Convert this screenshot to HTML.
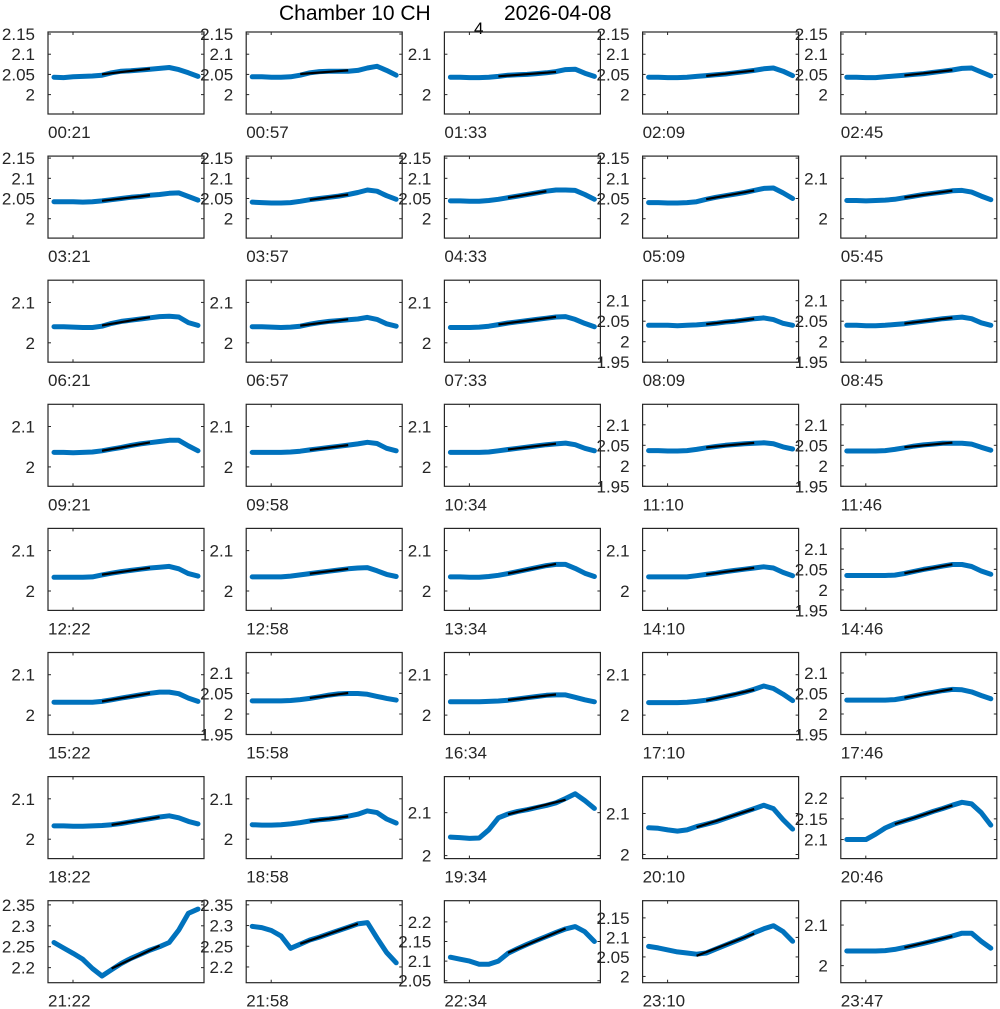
<!DOCTYPE html>
<html><head><meta charset="utf-8"><style>
body{margin:0;background:#fff}
svg{display:block;font-family:"Liberation Sans",sans-serif}
</style></head><body>
<svg id="fig" width="1000" height="1009" viewBox="0 0 1000 1009">
<rect width="1000" height="1009" fill="#fff"/>
<text x="279" y="20" font-size="21">Chamber 10 CH<tspan x="474" y="34" font-size="17">4</tspan><tspan x="504" y="20">2026-04-08</tspan></text>
</svg>
<script>
const timeLabels=["00:21","00:57","01:33","02:09","02:45","03:21","03:57","04:33","05:09","05:45","06:21","06:57","07:33","08:09","08:45","09:21","09:58","10:34","11:10","11:46","12:22","12:58","13:34","14:10","14:46","15:22","15:58","16:34","17:10","17:46","18:22","18:58","19:34","20:10","20:46","21:22","21:58","22:34","23:10","23:47"];
const T1=[2,2.05,2.1,2.15],T2=[2,2.1],T3=[1.95,2,2.05,2.1];
const yTicks=[T1,T1,T2,T1,T1, T1,T1,T1,T1,T2, T2,T2,T2,T3,T3, T2,T2,T2,T3,T3, T2,T2,T2,T2,T3, T2,T3,T2,T2,T3, T2,T2,T2,T2,[2.05,2.1,2.15,2.2], [2.2,2.25,2.3,2.35],[2.2,2.25,2.3,2.35],[2.05,2.1,2.15,2.2],[2,2.05,2.1,2.15],T2];
const yMin=[];const yMax=[];
for(let i=0;i<40;i++){yMin.push(1.952);yMax.push(2.155);}
[13,14,18,19,24,26,29].forEach(i=>{yMin[i]=1.95;yMax[i]=2.15;});
yMin[32]=1.993;yMax[32]=2.184;yMin[33]=1.99;yMax[33]=2.19;yMin[34]=2.054;yMax[34]=2.252;
yMin[35]=2.164;yMax[35]=2.36;yMin[36]=2.162;yMax[36]=2.36;yMin[37]=2.045;yMax[37]=2.254;
yMin[38]=1.984;yMax[38]=2.194;yMin[39]=1.958;yMax[39]=2.16;
const series=[
[2.043,2.042,2.044,2.045,2.046,2.048,2.054,2.058,2.059,2.061,2.063,2.065,2.067,2.062,2.054,2.045],
[2.044,2.044,2.043,2.043,2.044,2.048,2.054,2.057,2.058,2.058,2.058,2.06,2.066,2.07,2.06,2.048],
[2.043,2.043,2.042,2.042,2.043,2.045,2.048,2.049,2.05,2.052,2.054,2.057,2.062,2.063,2.053,2.045],
[2.043,2.043,2.042,2.042,2.043,2.045,2.047,2.049,2.051,2.054,2.057,2.060,2.064,2.066,2.058,2.047],
[2.043,2.043,2.042,2.042,2.044,2.046,2.048,2.050,2.052,2.055,2.058,2.061,2.065,2.066,2.056,2.046],
[2.042,2.042,2.042,2.041,2.042,2.044,2.047,2.050,2.053,2.055,2.058,2.060,2.063,2.064,2.055,2.046],
[2.041,2.040,2.039,2.039,2.040,2.043,2.047,2.050,2.053,2.056,2.060,2.065,2.071,2.068,2.057,2.048],
[2.044,2.044,2.043,2.043,2.045,2.048,2.052,2.056,2.060,2.064,2.068,2.071,2.071,2.070,2.060,2.048],
[2.040,2.040,2.039,2.039,2.040,2.042,2.048,2.053,2.057,2.061,2.065,2.070,2.075,2.076,2.064,2.050],
[2.045,2.045,2.044,2.045,2.046,2.048,2.052,2.056,2.060,2.063,2.066,2.069,2.070,2.066,2.056,2.047],
[2.040,2.040,2.039,2.038,2.038,2.041,2.048,2.053,2.056,2.059,2.062,2.065,2.066,2.064,2.050,2.043],
[2.040,2.040,2.039,2.038,2.039,2.041,2.046,2.050,2.053,2.055,2.057,2.059,2.063,2.058,2.047,2.041],
[2.038,2.038,2.038,2.039,2.041,2.045,2.049,2.052,2.055,2.058,2.061,2.064,2.065,2.058,2.048,2.040],
[2.040,2.040,2.040,2.039,2.040,2.041,2.043,2.045,2.048,2.050,2.053,2.056,2.058,2.054,2.045,2.040],
[2.040,2.040,2.039,2.039,2.040,2.042,2.044,2.047,2.050,2.053,2.056,2.058,2.060,2.056,2.046,2.040],
[2.036,2.036,2.035,2.036,2.037,2.040,2.044,2.048,2.053,2.057,2.060,2.063,2.066,2.066,2.052,2.040],
[2.036,2.036,2.036,2.036,2.037,2.039,2.042,2.045,2.048,2.051,2.054,2.057,2.061,2.058,2.046,2.040],
[2.036,2.036,2.036,2.036,2.037,2.040,2.043,2.046,2.049,2.052,2.055,2.057,2.059,2.055,2.046,2.040],
[2.037,2.037,2.036,2.036,2.037,2.040,2.044,2.047,2.050,2.052,2.054,2.055,2.056,2.054,2.046,2.041],
[2.036,2.036,2.036,2.036,2.037,2.040,2.044,2.048,2.051,2.053,2.055,2.055,2.055,2.053,2.045,2.038],
[2.034,2.034,2.034,2.034,2.035,2.040,2.044,2.048,2.051,2.054,2.057,2.059,2.061,2.055,2.043,2.037],
[2.035,2.035,2.035,2.035,2.037,2.040,2.043,2.046,2.049,2.052,2.055,2.057,2.058,2.050,2.041,2.036],
[2.035,2.035,2.034,2.034,2.036,2.039,2.043,2.048,2.053,2.058,2.063,2.066,2.066,2.056,2.044,2.036],
[2.035,2.035,2.035,2.035,2.035,2.038,2.041,2.044,2.048,2.051,2.054,2.057,2.060,2.057,2.046,2.038],
[2.035,2.035,2.035,2.035,2.035,2.036,2.040,2.045,2.050,2.054,2.058,2.062,2.062,2.057,2.046,2.038],
[2.032,2.032,2.032,2.032,2.032,2.034,2.038,2.042,2.046,2.050,2.054,2.057,2.057,2.053,2.042,2.034],
[2.032,2.032,2.032,2.032,2.033,2.035,2.038,2.042,2.046,2.049,2.050,2.050,2.048,2.043,2.038,2.034],
[2.033,2.033,2.033,2.033,2.034,2.035,2.037,2.040,2.043,2.046,2.049,2.050,2.050,2.044,2.038,2.033],
[2.031,2.031,2.031,2.031,2.032,2.034,2.037,2.041,2.046,2.051,2.057,2.064,2.072,2.066,2.052,2.036],
[2.034,2.034,2.034,2.034,2.034,2.035,2.039,2.044,2.049,2.053,2.057,2.060,2.059,2.054,2.045,2.037],
[2.033,2.033,2.032,2.032,2.033,2.034,2.036,2.039,2.043,2.047,2.051,2.055,2.058,2.053,2.044,2.038],
[2.036,2.035,2.035,2.036,2.038,2.041,2.045,2.048,2.050,2.053,2.057,2.062,2.070,2.066,2.050,2.040],
[2.043,2.042,2.040,2.041,2.060,2.088,2.097,2.103,2.107,2.112,2.117,2.123,2.133,2.144,2.128,2.110],
[2.065,2.064,2.060,2.057,2.060,2.068,2.074,2.080,2.088,2.096,2.104,2.112,2.120,2.112,2.085,2.062],
[2.100,2.100,2.100,2.113,2.128,2.138,2.145,2.152,2.160,2.168,2.175,2.183,2.190,2.186,2.165,2.135],
[2.260,2.247,2.234,2.220,2.198,2.180,2.195,2.210,2.222,2.232,2.242,2.250,2.260,2.290,2.330,2.340],
[2.298,2.295,2.288,2.275,2.245,2.255,2.265,2.272,2.280,2.288,2.296,2.304,2.307,2.270,2.235,2.210],
[2.110,2.105,2.100,2.092,2.092,2.100,2.120,2.132,2.143,2.153,2.163,2.173,2.182,2.188,2.175,2.150],
[2.077,2.073,2.068,2.063,2.060,2.057,2.060,2.070,2.080,2.090,2.100,2.112,2.122,2.130,2.115,2.090],
[2.036,2.036,2.036,2.036,2.037,2.040,2.045,2.050,2.055,2.061,2.067,2.073,2.080,2.080,2.060,2.043]];
const fitStart=[5,5,5,6,6,5,6,6,6,6,5,5,5,6,6,5,6,6,6,6,5,6,6,6,6,5,6,6,6,6,6,6,6,5,5,6,5,6,5,6];
const fitEnd=[10,10,11,11,11,10,10,10,11,11,10,10,11,11,11,10,10,11,11,11,10,10,11,11,11,10,10,11,11,11,11,10,12,11,11,11,11,12,11,11];

const NS="http://www.w3.org/2000/svg";
const svg=document.getElementById('fig');
function mk(tag,attrs,parent){const e=document.createElementNS(NS,tag);for(const k in attrs)e.setAttribute(k,attrs[k]);parent.appendChild(e);return e;}
const W=156,H=82;
for(let i=0;i<40;i++){
  const r=Math.floor(i/5),c=i%5;
  const L=48+c*198.2,Tp=32+r*124.1;
  const g=mk('g',{},svg);
  
  
  const yS=v=>Tp+H-(v-yMin[i])/(yMax[i]-yMin[i])*H;
  const vals=series[i];const n=vals.length;
  const xS=k=>L+6+k/(n-1)*(W-12);
  const box=mk('rect',{x:L,y:Tp,width:W,height:H,fill:'none',stroke:'#262626','stroke-width':1.2},g);
  
  
  yTicks[i].forEach(t=>{
    const y=yS(t);
    if(y<Tp-1||y>Tp+H+1)return;
    mk('line',{x1:L,x2:L+3,y1:y,y2:y,stroke:'#262626'},g);
    mk('line',{x1:L+W-3,x2:L+W,y1:y,y2:y,stroke:'#262626'},g);
    const tx=mk('text',{x:L-13,y:y+6,'text-anchor':'end','font-size':17,fill:'#262626'},g);
    tx.textContent=String(t);
    
    
  });
  mk('line',{x1:L+25,x2:L+25,y1:Tp,y2:Tp+3,stroke:'#262626'},g);
  mk('line',{x1:L+25,x2:L+25,y1:Tp+H-3,y2:Tp+H,stroke:'#262626'},g);
  const xl=mk('text',{x:L,y:Tp+H+24,'font-size':17,fill:'#262626'},g);
  xl.textContent=timeLabels[i];
  
  
  const pts=vals.map((v,k)=>xS(k).toFixed(1)+','+yS(v).toFixed(1)).join(' ');
  const pl=mk('polyline',{points:pts,fill:'none',stroke:'#0072BD','stroke-width':5,'stroke-linejoin':'round','stroke-linecap':'round'},g);
  
  
  const a=fitStart[i],b=fitEnd[i];let sx=0,sy=0,sxx=0,sxy=0,m=0;
  for(let k=a;k<=b;k++){sx+=k;sy+=vals[k];sxx+=k*k;sxy+=k*vals[k];m++;}
  const slope=(m*sxy-sx*sy)/(m*sxx-sx*sx),icp=(sy-slope*sx)/m;
  const fl=mk('line',{x1:xS(a),y1:yS(icp+slope*a),x2:xS(b),y2:yS(icp+slope*b),stroke:'#000','stroke-width':2.2},g);
  
  
}
</script>
</body></html>
